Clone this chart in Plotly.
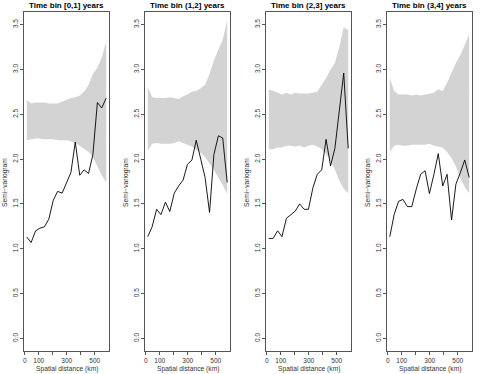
import plotly.graph_objects as go

# spatial distance bin centres (km), shared by all panels
dist_km = [15, 46, 78, 109, 141, 172, 204, 235, 267, 298, 330, 361, 393, 424, 456, 487, 519, 550, 582]

panel_titles = ["Time bin [0,1] years", "Time bin (1,2] years", "Time bin (2,3] years", "Time bin (3,4] years"]

# empirical semi-variogram per time bin
semivar_0_1 = [1.13, 1.07, 1.20, 1.23, 1.245, 1.33, 1.54, 1.64, 1.62, 1.74, 1.85, 2.19, 1.82, 1.88, 1.84, 2.05, 2.63, 2.57, 2.68]
semivar_1_2 = [1.135, 1.245, 1.44, 1.38, 1.52, 1.415, 1.62, 1.70, 1.765, 1.94, 1.99, 2.21, 2.00, 1.795, 1.405, 2.05, 2.26, 2.235, 1.74]
semivar_2_3 = [1.115, 1.115, 1.20, 1.135, 1.34, 1.38, 1.42, 1.50, 1.44, 1.44, 1.68, 1.83, 1.88, 2.22, 1.925, 2.12, 2.52, 2.96, 2.12]
semivar_3_4 = [1.135, 1.38, 1.53, 1.55, 1.47, 1.47, 1.665, 1.83, 1.87, 1.615, 1.83, 2.06, 1.70, 1.83, 1.32, 1.72, 1.85, 1.99, 1.795]

# permutation envelopes (upper / lower)
upper_0_1 = [2.66, 2.62, 2.63, 2.63, 2.63, 2.62, 2.62, 2.62, 2.64, 2.66, 2.68, 2.69, 2.71, 2.75, 2.83, 2.95, 3.02, 3.13, 3.31]
lower_0_1 = [2.21, 2.22, 2.23, 2.23, 2.22, 2.22, 2.22, 2.21, 2.21, 2.21, 2.20, 2.18, 2.15, 2.12, 2.08, 2.02, 1.92, 1.82, 1.74]
upper_1_2 = [2.80, 2.69, 2.68, 2.68, 2.68, 2.69, 2.68, 2.67, 2.70, 2.72, 2.75, 2.76, 2.79, 2.83, 2.95, 3.10, 3.22, 3.33, 3.55]
lower_1_2 = [2.09, 2.17, 2.18, 2.17, 2.17, 2.17, 2.18, 2.20, 2.18, 2.16, 2.14, 2.11, 2.07, 2.02, 1.95, 1.88, 1.80, 1.71, 1.61]
upper_2_3 = [2.78, 2.76, 2.74, 2.72, 2.74, 2.72, 2.74, 2.73, 2.73, 2.73, 2.74, 2.75, 2.83, 2.90, 3.00, 3.07, 3.25, 3.47, 3.44]
lower_2_3 = [2.11, 2.11, 2.13, 2.13, 2.15, 2.15, 2.14, 2.15, 2.13, 2.15, 2.16, 2.14, 2.11, 2.06, 1.99, 1.88, 1.76, 1.67, 1.62]
upper_3_4 = [2.91, 2.76, 2.72, 2.72, 2.72, 2.71, 2.72, 2.71, 2.72, 2.73, 2.74, 2.78, 2.76, 2.85, 2.97, 3.07, 3.16, 3.27, 3.39]
lower_3_4 = [2.08, 2.15, 2.16, 2.15, 2.15, 2.16, 2.16, 2.16, 2.16, 2.17, 2.15, 2.14, 2.13, 2.08, 2.01, 1.92, 1.79, 1.69, 1.62]

x_ticks = [0, 100, 200, 300, 400, 500]
x_ticktext = ["0", "100", "", "300", "", "500"]
y_ticks = [0, 0.5, 1, 1.5, 2, 2.5, 3, 3.5]
y_ticktext = ["0.0", "0.5", "1.0", "1.5", "2.0", "2.5", "3.0", "3.5"]

semivars = [semivar_0_1, semivar_1_2, semivar_2_3, semivar_3_4]
uppers = [upper_0_1, upper_1_2, upper_2_3, upper_3_4]
lowers = [lower_0_1, lower_1_2, lower_2_3, lower_3_4]

W, H = 484, 374
FONT = "Liberation Sans, Arial, sans-serif"
TXT = "#333333"

fig = go.Figure()
layout = dict(
    width=W, height=H,
    margin=dict(l=0, r=0, t=0, b=0),
    paper_bgcolor="white", plot_bgcolor="white",
    showlegend=False,
    font=dict(family=FONT, size=7, color=TXT),
)
annotations = []

y_dom = [(H - 351) / H, (H - 12) / H]

for i in range(4):
    n = "" if i == 0 else str(i + 1)
    xa, ya = "x" + n, "y" + n
    left = 121 * i + 24
    right = 121 * i + 109

    fig.add_trace(go.Scatter(
        x=dist_km + dist_km[::-1],
        y=uppers[i] + lowers[i][::-1],
        fill="toself", fillcolor="#d3d3d3",
        line=dict(width=0, color="#d3d3d3"),
        mode="lines", hoverinfo="skip",
        xaxis=xa, yaxis=ya,
    ))
    fig.add_trace(go.Scatter(
        x=dist_km, y=semivars[i],
        mode="lines", line=dict(color="black", width=0.9),
        xaxis=xa, yaxis=ya,
    ))

    layout["xaxis" + n] = dict(
        domain=[left / W, right / W], range=[-5, 602],
        tickvals=x_ticks, ticktext=x_ticktext,
        ticks="outside", ticklen=3, tickwidth=0.8, tickcolor="#555",
        showline=True, linecolor="#555", linewidth=0.8, mirror=True,
        showgrid=False, zeroline=False,
        tickfont=dict(size=6.5, color=TXT), anchor=ya,
    )
    layout["yaxis" + n] = dict(
        domain=y_dom, range=[-0.14, 3.64],
        tickvals=y_ticks, ticktext=y_ticktext, tickangle=-90,
        ticks="outside", ticklen=3, tickwidth=0.8, tickcolor="#555",
        showline=True, linecolor="#555", linewidth=0.8, mirror=True,
        showgrid=False, zeroline=False,
        tickfont=dict(size=6.5, color=TXT), anchor=xa,
    )

    cx = (left + right) / 2 / W
    annotations.append(dict(
        text="<b>" + panel_titles[i] + "</b>", x=cx, y=1 - 5.5 / H,
        xref="paper", yref="paper", xanchor="center", yanchor="middle",
        showarrow=False, font=dict(size=8, color="black"),
    ))
    annotations.append(dict(
        text="Spatial distance (km)", x=cx, y=1 - 369 / H,
        xref="paper", yref="paper", xanchor="center", yanchor="middle",
        showarrow=False, font=dict(size=6.7, color=TXT),
    ))
    annotations.append(dict(
        text="Semi\u2212variogram", x=(121 * i + 5) / W, y=1 - 183 / H,
        xref="paper", yref="paper", xanchor="center", yanchor="middle",
        textangle=-90, showarrow=False, font=dict(size=6.7, color=TXT),
    ))

layout["annotations"] = annotations
fig.update_layout(**layout)
# drop the page's default body margin so the figure fills the window
fig.write_html("out.html", config={"displayModeBar": False},
               post_script="document.body.style.margin='0';")
